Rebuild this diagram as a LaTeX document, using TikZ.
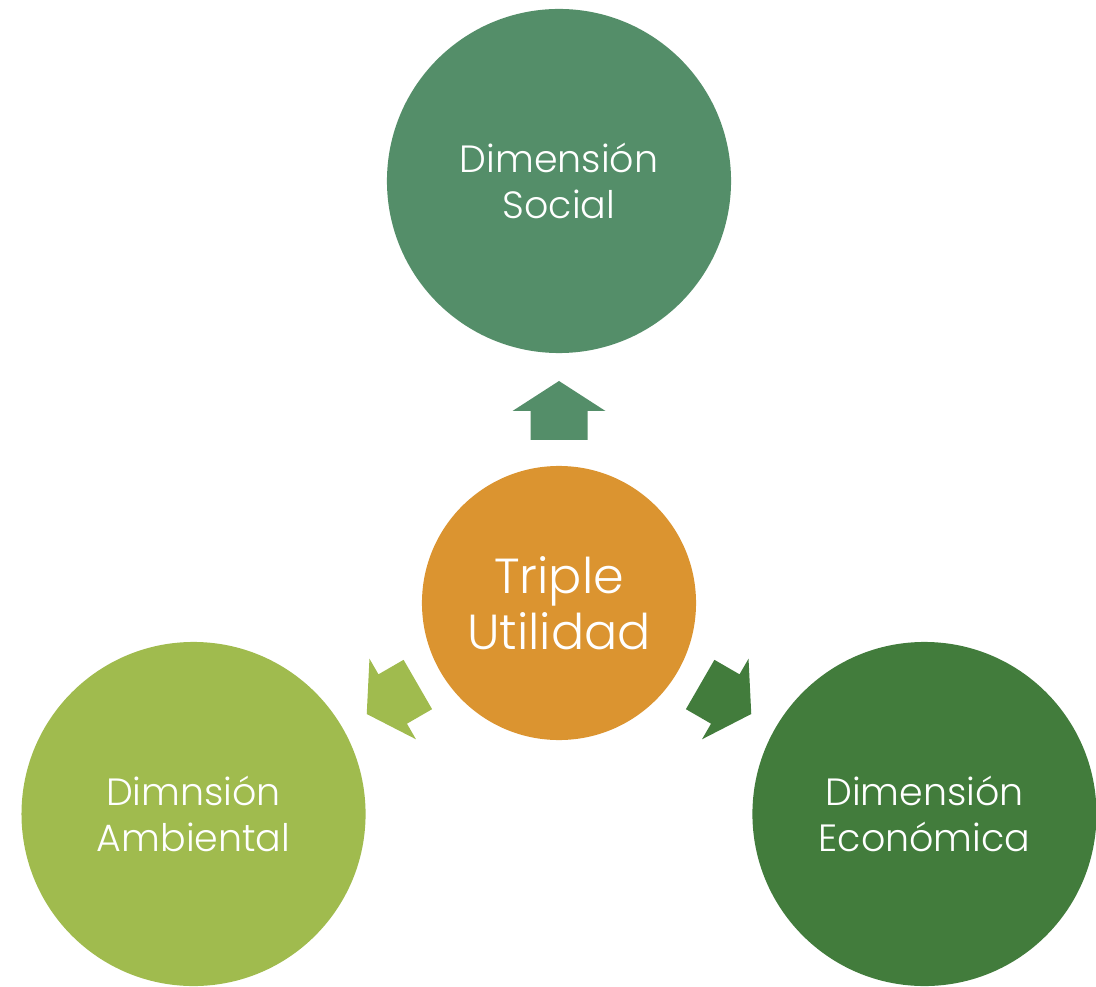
\documentclass[tikz,border=0pt]{standalone}
\usepackage{fontspec}
\setmainfont{Poppins Light}
\definecolor{socialgreen}{HTML}{548E69}
\definecolor{utilorange}{HTML}{DB9430}
\definecolor{ambientgreen}{HTML}{A0BB4E}
\definecolor{econgreen}{HTML}{427C3C}
% one block arrow leaving the centre, pointing at angle #2
\newcommand{\utilarrow}[2]{%
  \fill[#1, rotate=#2] (163,-28.5) -- (192,-28.5) -- (192,-46.5) -- (222,0)
    -- (192,46.5) -- (192,28.5) -- (163,28.5) -- cycle;
}
\begin{document}
\begin{tikzpicture}[x=0.025cm, y=0.025cm,
    dimcircle/.style={circle, minimum size=8.6cm, inner sep=0pt, text=white,
      align=center, font=\fontsize{27}{33}\selectfont},
    hubcircle/.style={circle, minimum size=6.85cm, inner sep=0pt, text=white,
      align=center, font=\fontsize{35}{40}\selectfont}]
      \useasboundingbox (-559,-383) rectangle (537,603);

      % Centre
      \node[hubcircle, fill=utilorange] (util) at (0,0) {Triple\\Utilidad};

      % The three dimensions
      \node[dimcircle, fill=socialgreen] (social) at (90:422) {Dimensión\\Social};
      \node[dimcircle, fill=ambientgreen] (ambient) at (210:422) {Dimnsión\\Ambiental};
      \node[dimcircle, fill=econgreen] (econ) at (330:422) {Dimensión\\Económica};

      % Arrows
      \utilarrow{socialgreen}{90}
      \utilarrow{ambientgreen}{210}
      \utilarrow{econgreen}{330}
    \end{tikzpicture}
\end{document}
